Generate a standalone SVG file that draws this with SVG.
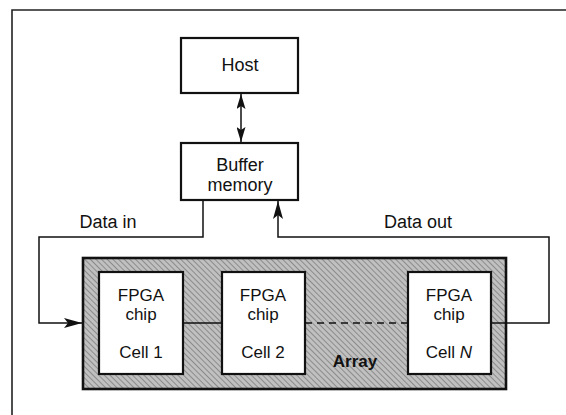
<svg xmlns="http://www.w3.org/2000/svg" width="566" height="415" viewBox="0 0 566 415">
  <style>
    .box { fill: #fff; stroke: #111; stroke-width: 2.2; }
    .wire { fill: none; stroke: #111; stroke-width: 1.5; }
    .lbl { font-family: "Liberation Sans", Arial, sans-serif; font-size: 18px; fill: #111; text-anchor: middle; }
    .cell { font-size: 17px; }
    .frame { fill: none; stroke: #222; stroke-width: 1.6; }
  </style>
  <defs>
    <pattern id="hatch" width="4" height="4" patternUnits="userSpaceOnUse" patternTransform="rotate(-45)">
      <rect width="4" height="4" fill="#c0c0c0"/>
      <line x1="0" y1="0" x2="0" y2="4" stroke="#747474" stroke-width="1.4"/>
    </pattern>
    <!-- long arrowhead for the data paths -->
    <marker id="arr" viewBox="0 0 18 10" refX="18" refY="5" markerWidth="18" markerHeight="10" markerUnits="userSpaceOnUse" orient="auto-start-reverse">
      <path d="M0,0 L18,5 L0,10 L4,5 Z" fill="#111"/>
    </marker>
    <!-- arrowhead for the host link -->
    <marker id="arrS" viewBox="0 0 15 9" refX="15" refY="4.5" markerWidth="15" markerHeight="9" markerUnits="userSpaceOnUse" orient="auto-start-reverse">
      <path d="M0,0 L15,4.5 L0,9 L3,4.5 Z" fill="#111"/>
    </marker>
  </defs>

  <!-- page frame (top and left edges) -->
  <path class="frame" d="M12,415 V10 H566"/>

  <!-- array enclosure -->
  <g id="array">
    <rect x="83" y="258" width="423" height="131" fill="url(#hatch)" stroke="#111" stroke-width="2.6"/>
    <text x="355" y="367" class="lbl" style="font-weight:bold;font-size:17px">Array</text>
  </g>

  <g id="connectors">
    <!-- host <-> buffer -->
    <line class="wire" x1="241" y1="94" x2="241" y2="142" marker-start="url(#arrS)" marker-end="url(#arrS)"/>
    <!-- data in -->
    <path class="wire" d="M203,200 V237 H39 V323 H82" marker-end="url(#arr)"/>
    <!-- data out -->
    <path class="wire" d="M491,323 H549 V237 H278 V201" marker-end="url(#arr)"/>
    <!-- cell chain -->
    <line class="wire" x1="183" y1="323" x2="222" y2="323"/>
    <line class="wire" x1="305" y1="323" x2="407" y2="323" stroke-dasharray="7,5"/>
  </g>

  <g id="host">
    <rect class="box" x="181" y="38" width="117" height="55"/>
    <text x="240" y="71" class="lbl">Host</text>
  </g>

  <g id="buffer">
    <rect class="box" x="181" y="143" width="117" height="57"/>
    <text x="240" y="171" class="lbl">Buffer</text>
    <text x="240" y="191" class="lbl">memory</text>
  </g>

  <text x="108" y="228" class="lbl">Data in</text>
  <text x="418" y="228" class="lbl">Data out</text>

  <g id="cell1">
    <rect class="box" x="99" y="272" width="84" height="102"/>
    <text x="141" y="301" class="lbl cell">FPGA</text>
    <text x="141" y="320" class="lbl cell">chip</text>
    <text x="141" y="358" class="lbl cell">Cell 1</text>
  </g>

  <g id="cell2">
    <rect class="box" x="222" y="272" width="83" height="102"/>
    <text x="263" y="301" class="lbl cell">FPGA</text>
    <text x="263" y="320" class="lbl cell">chip</text>
    <text x="263" y="358" class="lbl cell">Cell 2</text>
  </g>

  <g id="cellN">
    <rect class="box" x="408" y="272" width="83" height="102"/>
    <text x="449" y="301" class="lbl cell">FPGA</text>
    <text x="449" y="320" class="lbl cell">chip</text>
    <text x="449" y="358" class="lbl cell">Cell <tspan font-style="italic">N</tspan></text>
  </g>
</svg>
